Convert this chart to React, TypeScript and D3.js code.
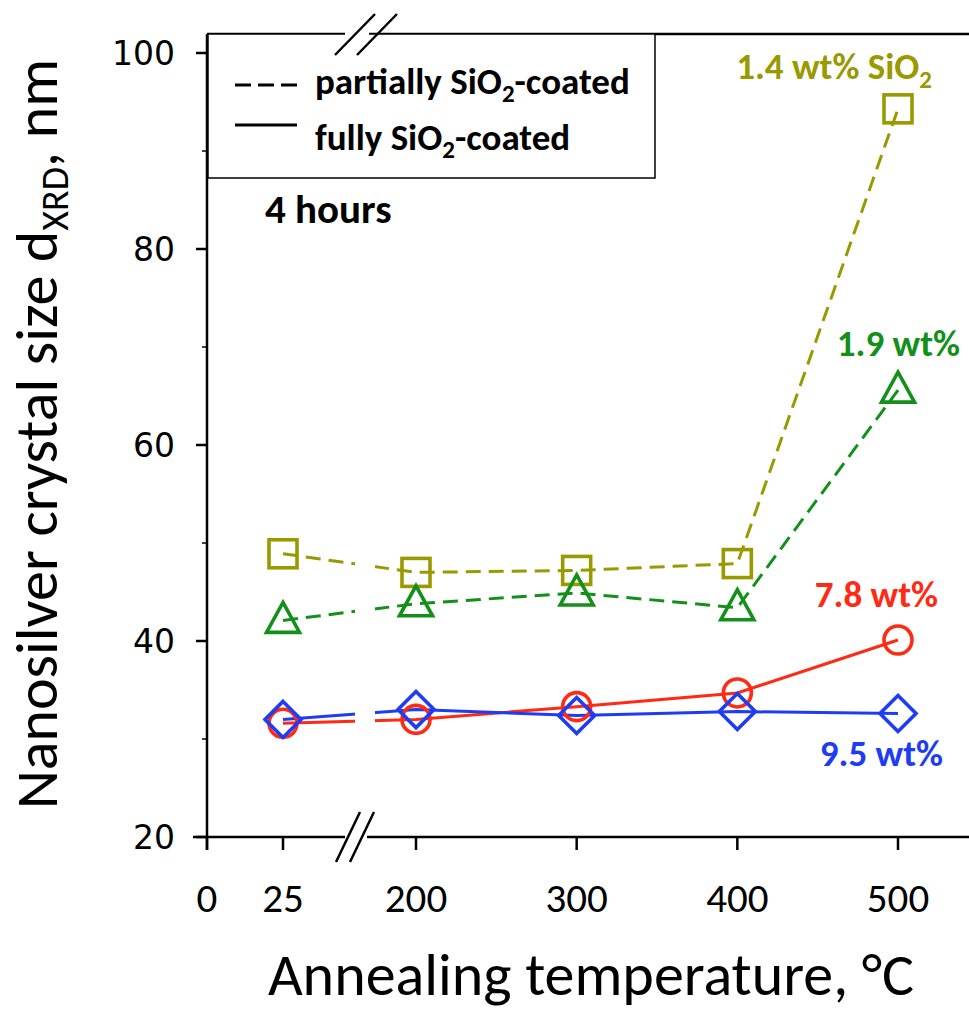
import React from 'react';
import * as d3 from 'd3';

const temps = [25, 200, 300, 400, 500];
const sio14 = [48.9, 47.0, 47.2, 47.9, 94.3];
const sio19 = [42.1, 43.8, 44.9, 43.4, 65.6];
const sio78 = [31.6, 32.0, 33.3, 34.7, 40.1];
const sio95 = [32.0, 33.0, 32.4, 32.8, 32.6];
const xTicks = [0, 25, 200, 300, 400, 500];
const yTicks = [20, 40, 60, 80, 100];
const yMinor = [30, 50, 70, 90];

const W = 969;
const H = 1021;

const x = d3.scaleLinear().domain([0, 25, 200, 500]).range([207, 283, 416, 898]);
const y = d3.scaleLinear().domain([20, 100]).range([837, 53]);

const frameTop = 34;
const breakX = 357;

const series = [
  { name: '1.4', values: sio14, color: '#999900', dash: '15,8', marker: 'square' },
  { name: '1.9', values: sio19, color: '#13901a', dash: '15,8', marker: 'triangle' },
  { name: '7.8', values: sio78, color: '#ff2a14', dash: null, marker: 'circle' },
  { name: '9.5', values: sio95, color: '#1f3cf5', dash: null, marker: 'diamond' },
];

const lineGen = d3
  .line<number>()
  .x((_, i) => x(temps[i]))
  .y((d) => y(d));

const marker = (type: string, cx: number, cy: number, color: string) => {
  const common = { fill: 'white', fillOpacity: 0, stroke: color, strokeWidth: 3.6 };
  if (type === 'square') return <rect x={cx - 14} y={cy - 14} width={28} height={28} {...common} />;
  if (type === 'circle') return <circle cx={cx} cy={cy} r={14} {...common} />;
  if (type === 'triangle') {
    const p = `${cx},${cy - 18} ${cx + 16.5},${cy + 12} ${cx - 16.5},${cy + 12}`;
    return <polygon points={p} {...common} strokeLinejoin="miter" />;
  }
  const p = `${cx},${cy - 18} ${cx + 18},${cy} ${cx},${cy + 18} ${cx - 18},${cy}`;
  return <polygon points={p} {...common} />;
};

const font = "Carlito, 'Open Sans', sans-serif";

export default function App() {
  const last = temps.length - 1;
  return (
    <svg width={W} height={H} style={{ display: 'block', position: 'absolute', left: 0, top: 0, background: 'white' }}>
      <defs>
        <clipPath id="gap">
          <rect x={0} y={0} width={breakX - 2} height={H} />
          <rect x={breakX + 18} y={0} width={W} height={H} />
        </clipPath>
      </defs>

      {/* frame */}
      <g stroke="black" strokeWidth={2.5} fill="none">
        <line x1={x(0)} x2={x(0)} y1={frameTop} y2={y(20) + 13} />
        <line x1={x(0) - 14} x2={W} y1={y(20)} y2={y(20)} />
        <line x1={x(0)} x2={W} y1={frameTop} y2={frameTop} />
        {yTicks.map((t) => (
          <line key={t} x1={x(0) - 11} x2={x(0)} y1={y(t)} y2={y(t)} />
        ))}
        {yMinor.map((t) => (
          <line key={t} x1={x(0) - 5} x2={x(0)} y1={y(t)} y2={y(t)} strokeWidth={1.5} />
        ))}
        {xTicks.map((t) => (
          <line key={t} x1={x(t)} x2={x(t)} y1={y(20)} y2={y(20) + 13} />
        ))}
      </g>

      {/* tick labels */}
      <g fontFamily="'DejaVu Sans', sans-serif" fontSize={33} textAnchor="end">
        {yTicks.map((t) => (
          <text key={t} x={175} y={y(t)} dy="0.37em">
            {t}
          </text>
        ))}
      </g>
      <g fontFamily={font} fontSize={41} textAnchor="middle">
        {xTicks.map((t) => (
          <text key={t} x={x(t)} y={912}>
            {t}
          </text>
        ))}
      </g>

      {/* axis titles */}
      <text x={591} y={995} fontFamily={font} fontSize={60} textAnchor="middle">
        Annealing temperature, °C
      </text>
      <text
        transform={`translate(57, ${434}) rotate(-90)`}
        fontFamily={font}
        fontSize={60}
        textAnchor="middle"
      >
        Nanosilver crystal size d<tspan fontSize={38} dy={11}>XRD</tspan>
        <tspan dy={-11}>, nm</tspan>
      </text>

      {/* legend */}
      <rect x={208} y={frameTop} width={447} height={144} fill="white" stroke="black" strokeWidth={1.5} />
      <line x1={235} x2={298} y1={85} y2={85} stroke="black" strokeWidth={3} strokeDasharray="16,7" />
      <line x1={235} x2={297} y1={125} y2={125} stroke="black" strokeWidth={3} />
      <g fontFamily={font} fontWeight="bold" fontSize={37}>
        <text x={315} y={94}>
          partially SiO<tspan fontSize={25} dy={8}>2</tspan>
          <tspan dy={-8}>-coated</tspan>
        </text>
        <text x={315} y={150}>
          fully SiO<tspan fontSize={25} dy={8}>2</tspan>
          <tspan dy={-8}>-coated</tspan>
        </text>
        <text x={265} y={223} fontSize={41}>
          4 hours
        </text>
      </g>

      {/* axis breaks */}
      <g stroke="black" strokeWidth={2.5}>
        <rect x={breakX - 12} y={frameTop - 3} width={24} height={6} fill="white" stroke="none" />
        <line x1={breakX - 22} y1={frameTop + 21} x2={breakX + 18} y2={frameTop - 20} />
        <line x1={breakX} y1={frameTop + 21} x2={breakX + 40} y2={frameTop - 20} />
        <rect x={breakX - 12} y={y(20) - 3} width={22} height={6} fill="white" stroke="none" />
        <line x1={breakX - 21} y1={y(20) + 25} x2={breakX + 3} y2={y(20) - 25} />
        <line x1={breakX - 7} y1={y(20) + 25} x2={breakX + 17} y2={y(20) - 25} />
      </g>

      {/* lines */}
      <g clipPath="url(#gap)" fill="none">
        {series.map((s) => (
          <path
            key={s.name}
            d={lineGen(s.values) || ''}
            stroke={s.color}
            strokeWidth={3}
            strokeDasharray={s.dash || undefined}
          />
        ))}
      </g>

      {/* markers */}
      {series.map((s) => (
        <g key={s.name}>
          {s.values.map((v, i) => (
            <g key={i}>{marker(s.marker, x(temps[i]), y(v), s.color)}</g>
          ))}
        </g>
      ))}

      {/* series labels */}
      <g fontFamily={font} fontWeight="bold" fontSize={37} textAnchor="end">
        <text x={932} y={y(sio14[last]) - 30} fill="#999900">
          1.4 wt% SiO<tspan fontSize={25} dy={9}>2</tspan>
        </text>
        <text x={960} y={y(sio19[last]) - 34} fill="#13901a">
          1.9 wt%
        </text>
        <text x={938} y={y(sio78[last]) - 33} fill="#ff2a14">
          7.8 wt%
        </text>
        <text x={943} y={y(sio95[last]) + 52} fill="#1f3cf5">
          9.5 wt%
        </text>
      </g>
    </svg>
  );
}
